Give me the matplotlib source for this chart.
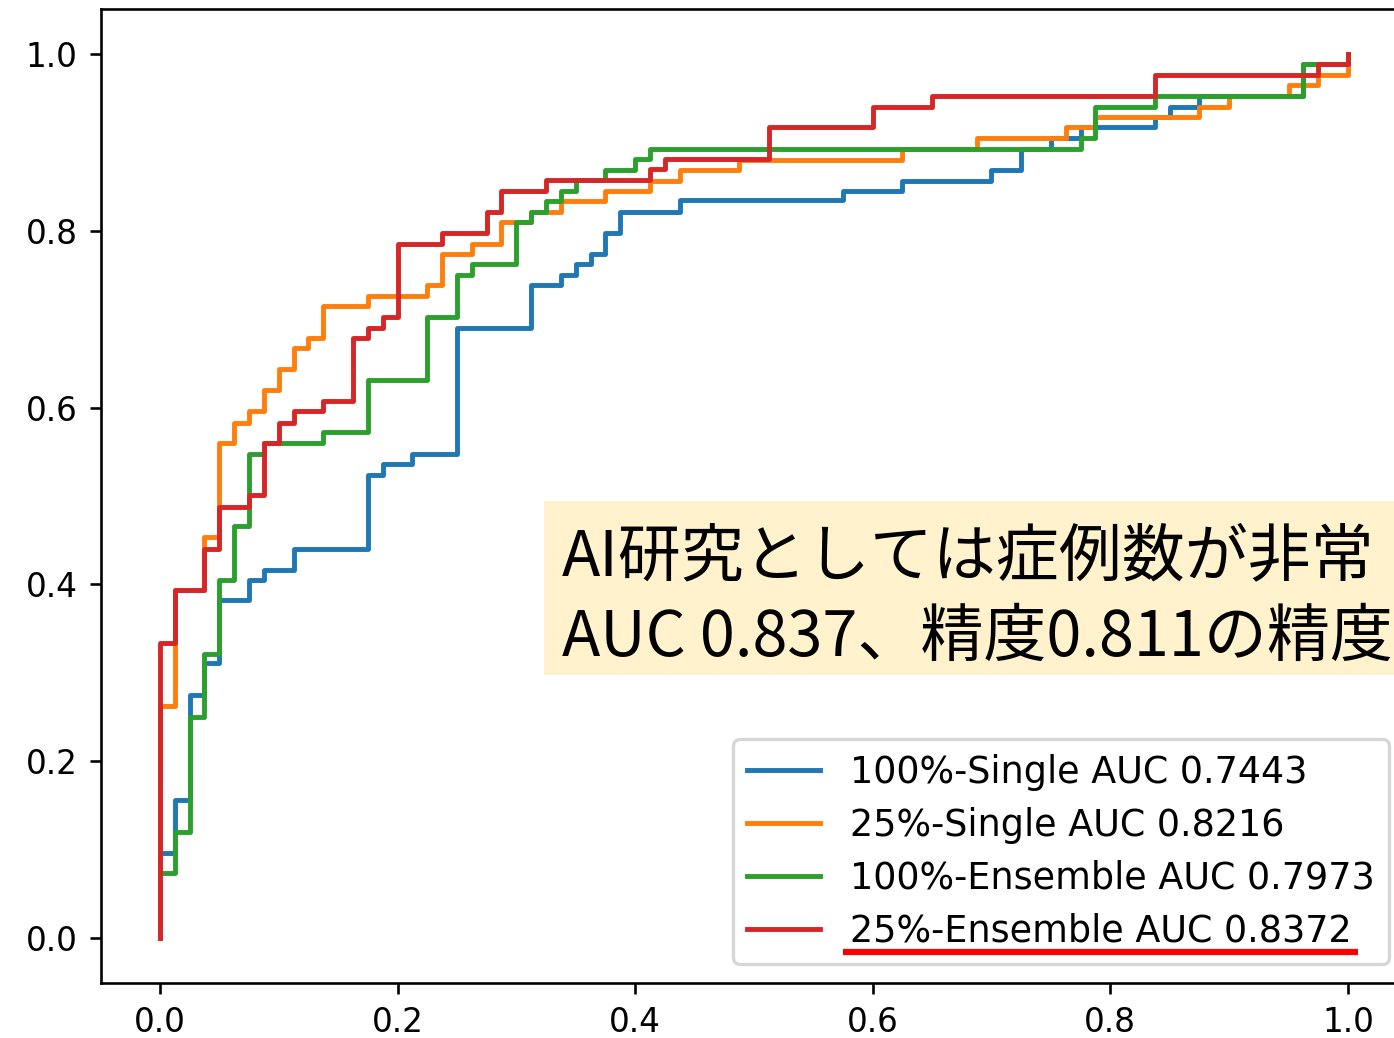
import matplotlib.pyplot as plt
from matplotlib.lines import Line2D
from matplotlib.patches import Rectangle

# ===================== DATA =====================
# ROC corner points: fpr where the curve rises, tpr after the rise
fpr_100_single = [0, 0, 0.0125, 0.025, 0.0375, 0.05, 0.075, 0.0875, 0.1125, 0.175,
                  0.1875, 0.2125, 0.25, 0.3125, 0.3375, 0.35, 0.3625, 0.375, 0.3875,
                  0.4375, 0.575, 0.625, 0.70, 0.725, 0.75, 0.775, 0.8375, 0.85,
                  0.875, 0.9625, 1.0]
tpr_100_single = [0, 0.0965, 0.156, 0.275, 0.311, 0.382, 0.4055, 0.4167, 0.4405, 0.524,
                  0.536, 0.548, 0.690, 0.738, 0.7497, 0.7617, 0.7737, 0.797, 0.821,
                  0.834, 0.845, 0.8565, 0.868, 0.8925, 0.9045, 0.9166, 0.928, 0.940,
                  0.952, 0.988, 1.0]

fpr_25_single = [0, 0, 0.0125, 0.0375, 0.05, 0.0625, 0.075, 0.0875, 0.1, 0.1125, 0.125,
                 0.1375, 0.175, 0.225, 0.2375, 0.2625, 0.2875, 0.3125, 0.3375, 0.375,
                 0.4125, 0.4375, 0.4875, 0.625, 0.6875, 0.7625, 0.7875, 0.875, 0.90,
                 0.95, 0.975, 1.0]
tpr_25_single = [0, 0.2627, 0.3935, 0.4535, 0.5596, 0.583, 0.5956, 0.6197, 0.6434, 0.6667,
                 0.678, 0.7148, 0.726, 0.738, 0.7737, 0.785, 0.8095, 0.821, 0.833, 0.845,
                 0.8565, 0.868, 0.880, 0.892, 0.9045, 0.9166, 0.928, 0.940, 0.952,
                 0.9647, 0.976, 1.0]

fpr_100_ens = [0, 0, 0.0125, 0.025, 0.0375, 0.05, 0.0625, 0.075, 0.0875, 0.1375, 0.175,
               0.225, 0.25, 0.2625, 0.30, 0.3125, 0.325, 0.3375, 0.35, 0.375, 0.40,
               0.4125, 0.775, 0.7875, 0.8375, 0.9625, 1.0]
tpr_100_ens = [0, 0.074, 0.1198, 0.2505, 0.322, 0.4055, 0.466, 0.548, 0.5596, 0.572, 0.631,
               0.7027, 0.7497, 0.7617, 0.8094, 0.821, 0.833, 0.845, 0.8568, 0.8687, 0.881,
               0.8925, 0.9045, 0.940, 0.952, 0.988, 1.0]

fpr_25_ens = [0, 0, 0.0125, 0.0375, 0.05, 0.075, 0.0875, 0.1, 0.1125, 0.1375, 0.1625,
              0.175, 0.1875, 0.2, 0.2375, 0.275, 0.2875, 0.325, 0.4125, 0.425, 0.5125,
              0.60, 0.65, 0.8375, 0.975, 1.0]
tpr_25_ens = [0, 0.334, 0.3935, 0.4405, 0.488, 0.5006, 0.5596, 0.583, 0.5956, 0.6077, 0.678,
              0.690, 0.7027, 0.785, 0.7975, 0.821, 0.845, 0.857, 0.869, 0.881, 0.9166,
              0.940, 0.952, 0.976, 0.988, 1.0]

labels = ["100%-Single AUC 0.7443", "25%-Single AUC 0.8216",
          "100%-Ensemble AUC 0.7973", "25%-Ensemble AUC 0.8372"]
note_lines = ["AI研究としては症例数が非常", "AUC 0.837、精度0.811の精度"]
# ==========================================================================

W, H, DPI = 1394, 1038, 235
fig = plt.figure(figsize=(W / DPI, H / DPI), dpi=DPI)

# axes run past the right edge of the picture (it was cropped)
ax = fig.add_axes([100.5 / W, (H - 982.7) / H, 1306.8 / W, 973.4 / H])

curves = [(fpr_100_single, tpr_100_single), (fpr_25_single, tpr_25_single),
          (fpr_100_ens, tpr_100_ens), (fpr_25_ens, tpr_25_ens)]
for (f, t), lab in zip(curves, labels):
    ax.plot(f, t, drawstyle="steps-post", label=lab)

ax.set_xticks([0.0, 0.2, 0.4, 0.6, 0.8, 1.0])
ax.set_yticks([0.0, 0.2, 0.4, 0.6, 0.8, 1.0])
ax.legend(loc="lower right", fontsize=11.2, labelspacing=0.44)

# highlight under the last legend entry
fig.add_artist(Line2D([843 / W, 1358 / W], [(H - 952) / H, (H - 952) / H],
                      transform=fig.transFigure, color="#ff0000", lw=1.9,
                      solid_capstyle="butt"))

# note box (cropped on the right)
fig.add_artist(Rectangle((544 / W, (H - 675) / H), (W + 20 - 544) / W, 174 / H,
                         transform=fig.transFigure, facecolor="#fff2cc",
                         edgecolor="none", zorder=5))
for txt, base in zip(note_lines, [575, 656]):
    fig.text(562 / W, (H - base) / H, txt, fontsize=19.3, va="baseline", ha="left",
             family=["Noto Sans CJK JP", "DejaVu Sans"], zorder=6)

fig.savefig("out.png", dpi=DPI)
